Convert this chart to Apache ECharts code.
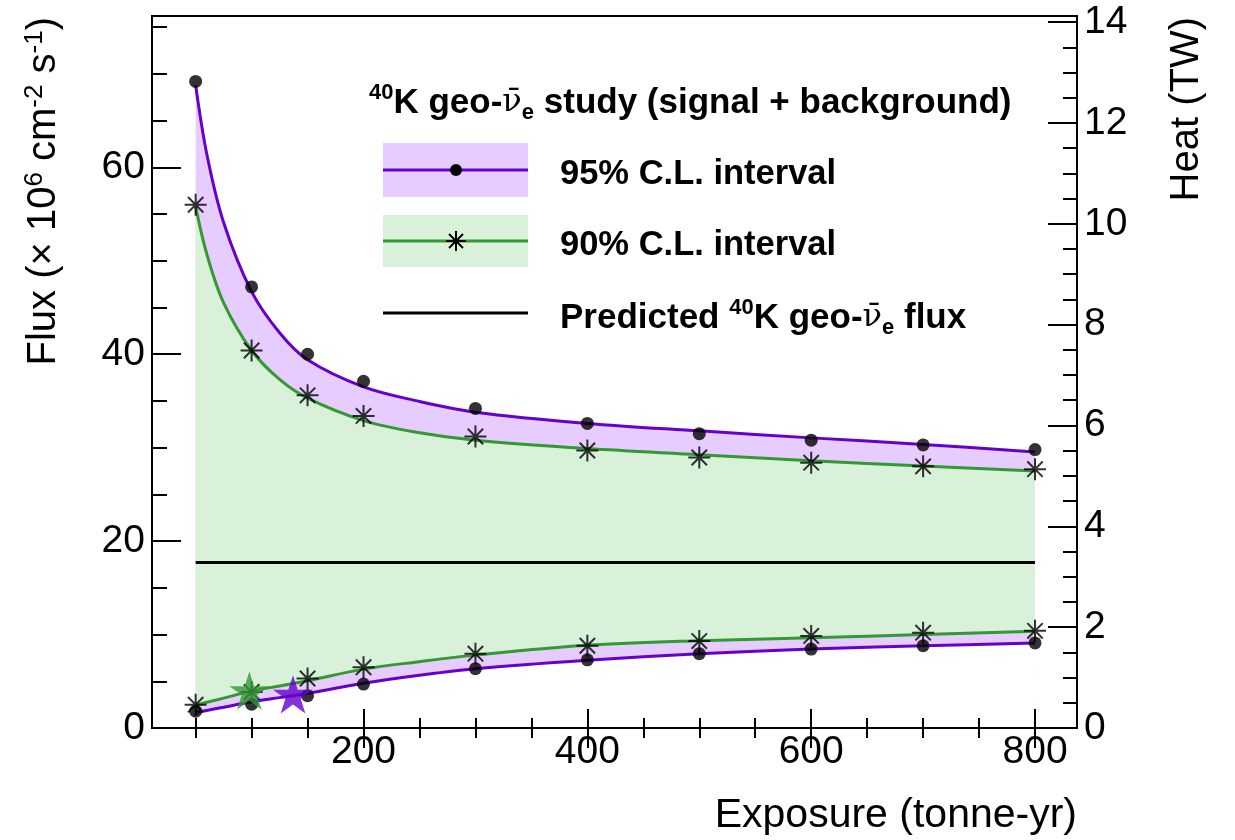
<!DOCTYPE html>
<html>
<head>
<meta charset="utf-8">
<script src="https://cdn.jsdelivr.net/npm/echarts@6/dist/echarts.min.js"></script>
<style>
  html, body { margin: 0; padding: 0; background: #fff; }
  #chart { width: 1235px; height: 840px; }
</style>
</head>
<body>
<div id="chart"></div>
<script>
// Exposure values (tonne-yr) of the pseudo-experiment points
const exposure = [50, 100, 150, 200, 300, 400, 500, 600, 700, 800];
// Interval limits at each exposure (x 10^6 cm^-2 s^-1)
const upper95Points = [69.2, 47.2, 40.0, 37.1, 34.2, 32.6, 31.5, 30.8, 30.3, 29.8];
const upper90Points = [56.0, 40.4, 35.6, 33.4, 31.2, 29.7, 28.95, 28.4, 28.0, 27.7];
const lower90Points = [2.5, 3.85, 5.3, 6.5, 7.95, 8.8, 9.3, 9.85, 10.2, 10.4];
const lower95Points = [1.8, 2.55, 3.45, 4.7, 6.35, 7.3, 7.95, 8.45, 8.8, 9.1];

// Fitted interval curves
const curveExposure = [50, 60, 75, 100, 125, 150, 200, 250, 300, 400, 500, 600, 700, 800];
const upper95Curve = [68.8, 61.4, 54.1, 46.7, 42.3, 39.4, 36.5, 34.95, 33.8, 32.6, 31.8, 31.05, 30.35, 29.55];
const upper90Curve = [55.8, 50.7, 45.5, 40.4, 37.3, 35.3, 32.9, 31.6, 30.8, 29.9, 29.25, 28.6, 28.05, 27.5];
const lower90Curve = [2.43, 2.75, 3.2, 3.95, 4.5, 5.05, 6.3, 7.1, 7.8, 8.85, 9.35, 9.65, 10.0, 10.35];
const lower95Curve = [1.65, 1.88, 2.22, 2.8, 3.25, 3.7, 4.8, 5.65, 6.35, 7.25, 7.95, 8.45, 8.8, 9.1];

// Predicted 40K geo-antineutrino flux and the exposure range it spans
const predictedFlux = 17.7;
const predictedRange = [50, 800];

// Discovery markers [exposure, flux]
const marker90 = [98, 4.0];
const marker95 = [137, 3.6];

// Axis ranges and ticks
const exposureRange = [11, 837.5];
const fluxMax = 76.2;
const heatMax = 14.12;
const exposureMajorTicks = [200, 400, 600, 800];
const exposureMinorTicks = [50, 100, 150, 250, 300, 350, 450, 500, 550, 650, 700, 750];
const fluxMajorTicks = [0, 20, 40, 60];
const fluxMinorTicks = [5, 10, 15, 25, 30, 35, 45, 50, 55, 65, 70, 75];
const heatMajorTicks = [0, 2, 4, 6, 8, 10, 12, 14];
const heatMinorTicks = [0.5, 1, 1.5, 2.5, 3, 3.5, 4.5, 5, 5.5, 6.5, 7, 7.5, 8.5, 9, 9.5, 10.5, 11, 11.5, 12.5, 13, 13.5];

const PURPLE = '#6600cc';
const PURPLE_FILL = '#e6ccff';
const GREEN = '#339933';
const GREEN_FILL = '#d9f1d9';
const FONT = 'Liberation Sans, Arial, Helvetica, sans-serif';

const pairs = (xs, ys) => xs.map((x, i) => [x, ys[i]]);

// asterisk marker: + and x overlaid
const asteriskPath = 'path://M10,0L10,20M0,10L20,10M3,3L17,17M3,17L17,3';
// five-pointed filled star
function starPath() {
  let d = '';
  for (let i = 0; i < 10; i++) {
    const a = (-90 + i * 36) * Math.PI / 180;
    const r = i % 2 ? 3.82 : 10;
    d += (i ? 'L' : 'M') + (10 + r * Math.cos(a)).toFixed(3) + ',' + (10 + r * Math.sin(a)).toFixed(3);
  }
  return 'path://' + d + 'Z';
}

function xAxisDef(position, major, length, withLabels) {
  return {
    type: 'value', position: position, z: 10,
    min: exposureRange[0], max: exposureRange[1],
    axisLine: { show: false },
    splitLine: { show: false },
    axisTick: { show: true, inside: true, length: length, customValues: major,
                lineStyle: { color: '#000', width: 2 } },
    axisLabel: withLabels ? { show: true, customValues: major, margin: 5, color: '#000',
                fontSize: 39, fontFamily: FONT } : { show: false }
  };
}
function yAxisDef(position, max, ticks, length, withLabels, margin) {
  return {
    type: 'value', position: position, min: 0, max: max, z: 10,
    axisLine: { show: false },
    splitLine: { show: false },
    axisTick: { show: true, inside: true, length: length, customValues: ticks,
                lineStyle: { color: '#000', width: 2 } },
    axisLabel: withLabels ? { show: true, customValues: ticks, margin: margin, color: '#000',
                fontSize: 39, fontFamily: FONT } : { show: false }
  };
}

// bands are painted as stacked layers, each filled down to the axis
const areaLayer = (name, values, fill) => ({
  type: 'line', name: name, smooth: 0.35, showSymbol: false, silent: true, z: 1,
  data: pairs(curveExposure, values),
  lineStyle: { width: 0, opacity: 0 },
  areaStyle: { color: fill, opacity: 1, origin: 'start' }
});
const curve = (name, values, color) => ({
  type: 'line', name: name, smooth: 0.35, showSymbol: false, silent: true, z: 2,
  data: pairs(curveExposure, values),
  lineStyle: { color: color, width: 3 }
});

// rich-text styles for the legend (bold body, superscript mass number, nu-bar, subscript e)
const legendRich = (size) => ({
  b: { fontSize: size, fontWeight: 'bold', fontFamily: FONT, lineHeight: size + 7 },
  s: { fontSize: Math.round(size * 0.64), fontWeight: 'bold', fontFamily: FONT, verticalAlign: 'top' },
  n: { fontSize: size - 3, fontFamily: 'DejaVu Serif, Liberation Serif, serif', lineHeight: size + 7 },
  e: { fontSize: Math.round(size * 0.64), fontWeight: 'bold', fontFamily: FONT, verticalAlign: 'bottom' }
});

const legendZ = 100;
const option = {
  animation: false,
  backgroundColor: '#fff',
  grid: { left: 152, right: 158, top: 16, bottom: 112, show: true, z: 10,
          borderColor: '#000', borderWidth: 2, backgroundColor: 'transparent' },
  xAxis: [
    xAxisDef('bottom', exposureMajorTicks, 19, true),
    xAxisDef('bottom', exposureMinorTicks, 10, false),
    xAxisDef('top', exposureMajorTicks, 20, false),
    xAxisDef('top', exposureMinorTicks, 10, false)
  ],
  yAxis: [
    yAxisDef('left', fluxMax, fluxMajorTicks, 29, true, 7),
    yAxisDef('left', fluxMax, fluxMinorTicks, 15, false, 0),
    yAxisDef('right', heatMax, heatMajorTicks, 29, true, 7),
    yAxisDef('right', heatMax, heatMinorTicks, 14, false, 0)
  ],
  series: [
    areaLayer('upper 95% fill', upper95Curve, PURPLE_FILL),
    areaLayer('upper 90% fill', upper90Curve, GREEN_FILL),
    areaLayer('lower 90% fill', lower90Curve, PURPLE_FILL),
    areaLayer('lower 95% fill', lower95Curve, '#ffffff'),
    curve('95% lower', lower95Curve, PURPLE),
    curve('95% upper', upper95Curve, PURPLE),
    curve('90% lower', lower90Curve, GREEN),
    curve('90% upper', upper90Curve, GREEN),
    // predicted flux
    { type: 'line', name: 'predicted', silent: true, showSymbol: false, z: 2,
      data: [[predictedRange[0], predictedFlux], [predictedRange[1], predictedFlux]],
      lineStyle: { color: '#000', width: 3 } },
    // interval points
    { type: 'scatter', name: '95% points', z: 3, symbol: 'circle', symbolSize: 13,
      itemStyle: { color: '#000' },
      data: pairs(exposure, upper95Points).concat(pairs(exposure, lower95Points)) },
    { type: 'scatter', name: '90% points', z: 3, symbol: asteriskPath, symbolSize: 22,
      itemStyle: { color: 'rgba(0,0,0,0)', borderColor: '#000', borderWidth: 2 },
      data: pairs(exposure, upper90Points).concat(pairs(exposure, lower90Points)) },
    // discovery markers
    { type: 'scatter', name: '90% marker', z: 4, symbol: starPath(), symbolKeepAspect: true, symbolSize: 40,
      itemStyle: { color: GREEN }, data: [marker90] },
    { type: 'scatter', name: '95% marker', z: 4, symbol: starPath(), symbolKeepAspect: true, symbolSize: 40,
      itemStyle: { color: PURPLE }, data: [marker95] }
  ],
  graphic: [
    // axis titles
    { type: 'text', x: 1077, y: 816, silent: true, z: legendZ,
      style: { text: 'Exposure (tonne-yr)', fontSize: 41, fontFamily: FONT, fill: '#000',
               align: 'right', verticalAlign: 'middle' } },
    { type: 'text', x: 44, y: 17, rotation: Math.PI / 2, silent: true, z: legendZ,
      style: { text: '{m|Flux (× 10}{s|6}{m| cm}{s|-2}{m| s}{s|-1}{m|)}', fill: '#000',
               align: 'right', verticalAlign: 'middle',
               rich: { m: { fontSize: 40, fontFamily: FONT, lineHeight: 44 },
                       s: { fontSize: 26, fontFamily: FONT, verticalAlign: 'top' } } } },
    { type: 'text', x: 1187, y: 17, rotation: Math.PI / 2, silent: true, z: legendZ,
      style: { text: 'Heat (TW)', fontSize: 40, fontFamily: FONT, fill: '#000',
               align: 'right', verticalAlign: 'middle' } },
    // legend
    { type: 'text', x: 369, y: 103, silent: true, z: legendZ,
      style: { text: '{s|40}{b|K geo-}{n|ν̄}{e|e}{b| study (signal + background)}', fill: '#000',
               align: 'left', verticalAlign: 'middle', rich: legendRich(35) } },
    { type: 'rect', silent: true, z: legendZ, shape: { x: 383, y: 143, width: 145, height: 54 }, style: { fill: PURPLE_FILL } },
    { type: 'line', silent: true, z: legendZ, shape: { x1: 383, y1: 170, x2: 528, y2: 170 }, style: { stroke: PURPLE, lineWidth: 3 } },
    { type: 'circle', silent: true, z: legendZ, shape: { cx: 456, cy: 170, r: 6 }, style: { fill: '#000' } },
    { type: 'text', x: 560, y: 174, silent: true, z: legendZ,
      style: { text: '95% C.L. interval', fontSize: 34.5, fontWeight: 'bold', fontFamily: FONT, fill: '#000',
               align: 'left', verticalAlign: 'middle' } },
    { type: 'rect', silent: true, z: legendZ, shape: { x: 383, y: 215, width: 145, height: 52 }, style: { fill: GREEN_FILL } },
    { type: 'line', silent: true, z: legendZ, shape: { x1: 383, y1: 241, x2: 528, y2: 241 }, style: { stroke: GREEN, lineWidth: 3 } },
    { type: 'line', silent: true, z: legendZ, shape: { x1: 456, y1: 231, x2: 456, y2: 251 }, style: { stroke: '#000', lineWidth: 2 } },
    { type: 'line', silent: true, z: legendZ, shape: { x1: 446, y1: 241, x2: 466, y2: 241 }, style: { stroke: '#000', lineWidth: 2 } },
    { type: 'line', silent: true, z: legendZ, shape: { x1: 449, y1: 234, x2: 463, y2: 248 }, style: { stroke: '#000', lineWidth: 2 } },
    { type: 'line', silent: true, z: legendZ, shape: { x1: 449, y1: 248, x2: 463, y2: 234 }, style: { stroke: '#000', lineWidth: 2 } },
    { type: 'text', x: 560, y: 245, silent: true, z: legendZ,
      style: { text: '90% C.L. interval', fontSize: 34.5, fontWeight: 'bold', fontFamily: FONT, fill: '#000',
               align: 'left', verticalAlign: 'middle' } },
    { type: 'line', silent: true, z: legendZ, shape: { x1: 383, y1: 313, x2: 528, y2: 313 }, style: { stroke: '#000', lineWidth: 3 } },
    { type: 'text', x: 560, y: 318, silent: true, z: legendZ,
      style: { text: '{b|Predicted }{s|40}{b|K geo-}{n|ν̄}{e|e}{b| flux}', fill: '#000',
               align: 'left', verticalAlign: 'middle', rich: legendRich(35) } }
  ]
};

const chart = echarts.init(document.getElementById('chart'), null, { renderer: 'canvas' });
chart.setOption(option);
</script>
</body>
</html>
